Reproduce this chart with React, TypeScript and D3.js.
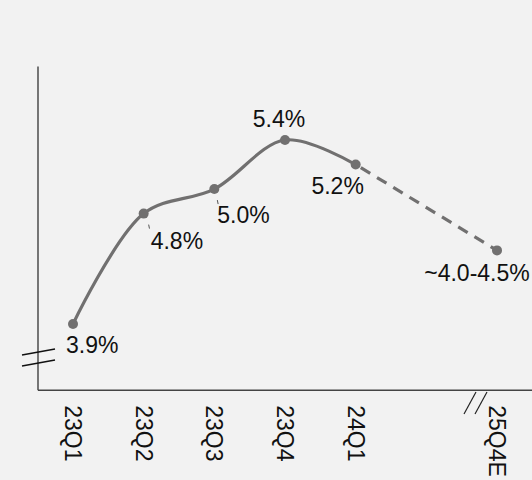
import React from "react";
import * as d3 from "d3";

const categories = ["23Q1", "23Q2", "23Q3", "23Q4", "24Q1", "", "25Q4E"];
const values: (number | null)[] = [3.9, 4.8, 5.0, 5.4, 5.2, null, 4.5];
const valueLabels = ["3.9%", "4.8%", "5.0%", "5.4%", "5.2%", "", "~4.0-4.5%"];

// label layout: [dx, dy, anchor, leader dx (null = none)]
const labelLayout: [number, number, string, number | null][] = [
  [-7, 29, "start", null],
  [7, 35, "start", 5],
  [3, 34, "start", 3],
  [-6, -13, "middle", null],
  [-18, 29, "middle", null],
  [0, 0, "middle", null],
  [-20, 31, "middle", null],
];

const W = 532;
const H = 480;
const LINE = "#717070";
const FONT = "Liberation Sans, Arial, sans-serif";

export default function App() {
  const x = d3.scaleLinear().domain([0, 6]).range([73, 497]);
  const y = d3.scaleLinear().domain([3.9, 5.4]).range([324, 140]);
  const axisX = 38;
  const axisY = y(3.36);
  const topY = y(6.0);

  const pts = values
    .map((v, i) => (v == null ? null : ([i, v] as [number, number])))
    .filter((d): d is [number, number] => d != null);
  const solid = pts.slice(0, 5);
  const dashed = pts.slice(4);

  const line = d3
    .line<[number, number]>()
    .x((d) => x(d[0]))
    .y((d) => y(d[1]))
    .curve(d3.curveCatmullRom.alpha(0.5));
  const dline = d3
    .line<[number, number]>()
    .x((d) => x(d[0]))
    .y((d) => y(d[1]));

  return (
    <svg
      width={W}
      height={H}
      style={{ position: "absolute", left: 0, top: 0, background: "#f2f2f2" }}
      fontFamily={FONT}
    >
      <rect x={0} y={0} width={W} height={H} fill="#f2f2f2" />
      {/* axes */}
      <line x1={axisX} x2={axisX} y1={topY} y2={axisY} stroke="#222" strokeWidth={1.2} />
      <line x1={axisX} x2={W} y1={axisY} y2={axisY} stroke="#444" strokeWidth={1.5} />
      {/* y-axis break */}
      <line x1={22} y1={355} x2={55} y2={349} stroke="#111" strokeWidth={1.3} />
      <line x1={22} y1={366} x2={55} y2={360} stroke="#111" strokeWidth={1.3} />
      {/* x-axis break */}
      <line x1={464} y1={414} x2={476} y2={392} stroke="#222" strokeWidth={1.2} />
      <line x1={475} y1={414} x2={487} y2={392} stroke="#222" strokeWidth={1.2} />

      <path d={line(solid) || ""} fill="none" stroke={LINE} strokeWidth={3.2} />
      <path
        d={dline(dashed) || ""}
        fill="none"
        stroke={LINE}
        strokeWidth={3.2}
        strokeDasharray="11 8"
        strokeDashoffset={-6}
      />
      {pts.map(([i, v]) => (
        <circle key={i} cx={x(i)} cy={y(v)} r={5} fill={LINE} />
      ))}
      {pts.map(([i, v]) => {
        const [dx, dy, anchor, leader] = labelLayout[i];
        const px = x(i);
        const py = y(v);
        return (
          <g key={"l" + i}>
            {leader != null && (
              <line
                x1={px + leader}
                y1={py + 11}
                x2={px + leader + 0.8}
                y2={py + 15}
                stroke="#555"
                strokeWidth={1}
              />
            )}
            <text
              x={px + dx}
              y={py + dy}
              textAnchor={anchor as any}
              fontSize={23}
              fill="#111"
            >
              {valueLabels[i]}
            </text>
          </g>
        );
      })}
      {categories.map((c, i) =>
        c ? (
          <text
            key={"c" + i}
            transform={`translate(${x(i)},${axisY + 15}) rotate(90)`}
            textAnchor="start"
            dominantBaseline="central"
            fontSize={23}
            fill="#111"
          >
            {c}
          </text>
        ) : null
      )}
    </svg>
  );
}
